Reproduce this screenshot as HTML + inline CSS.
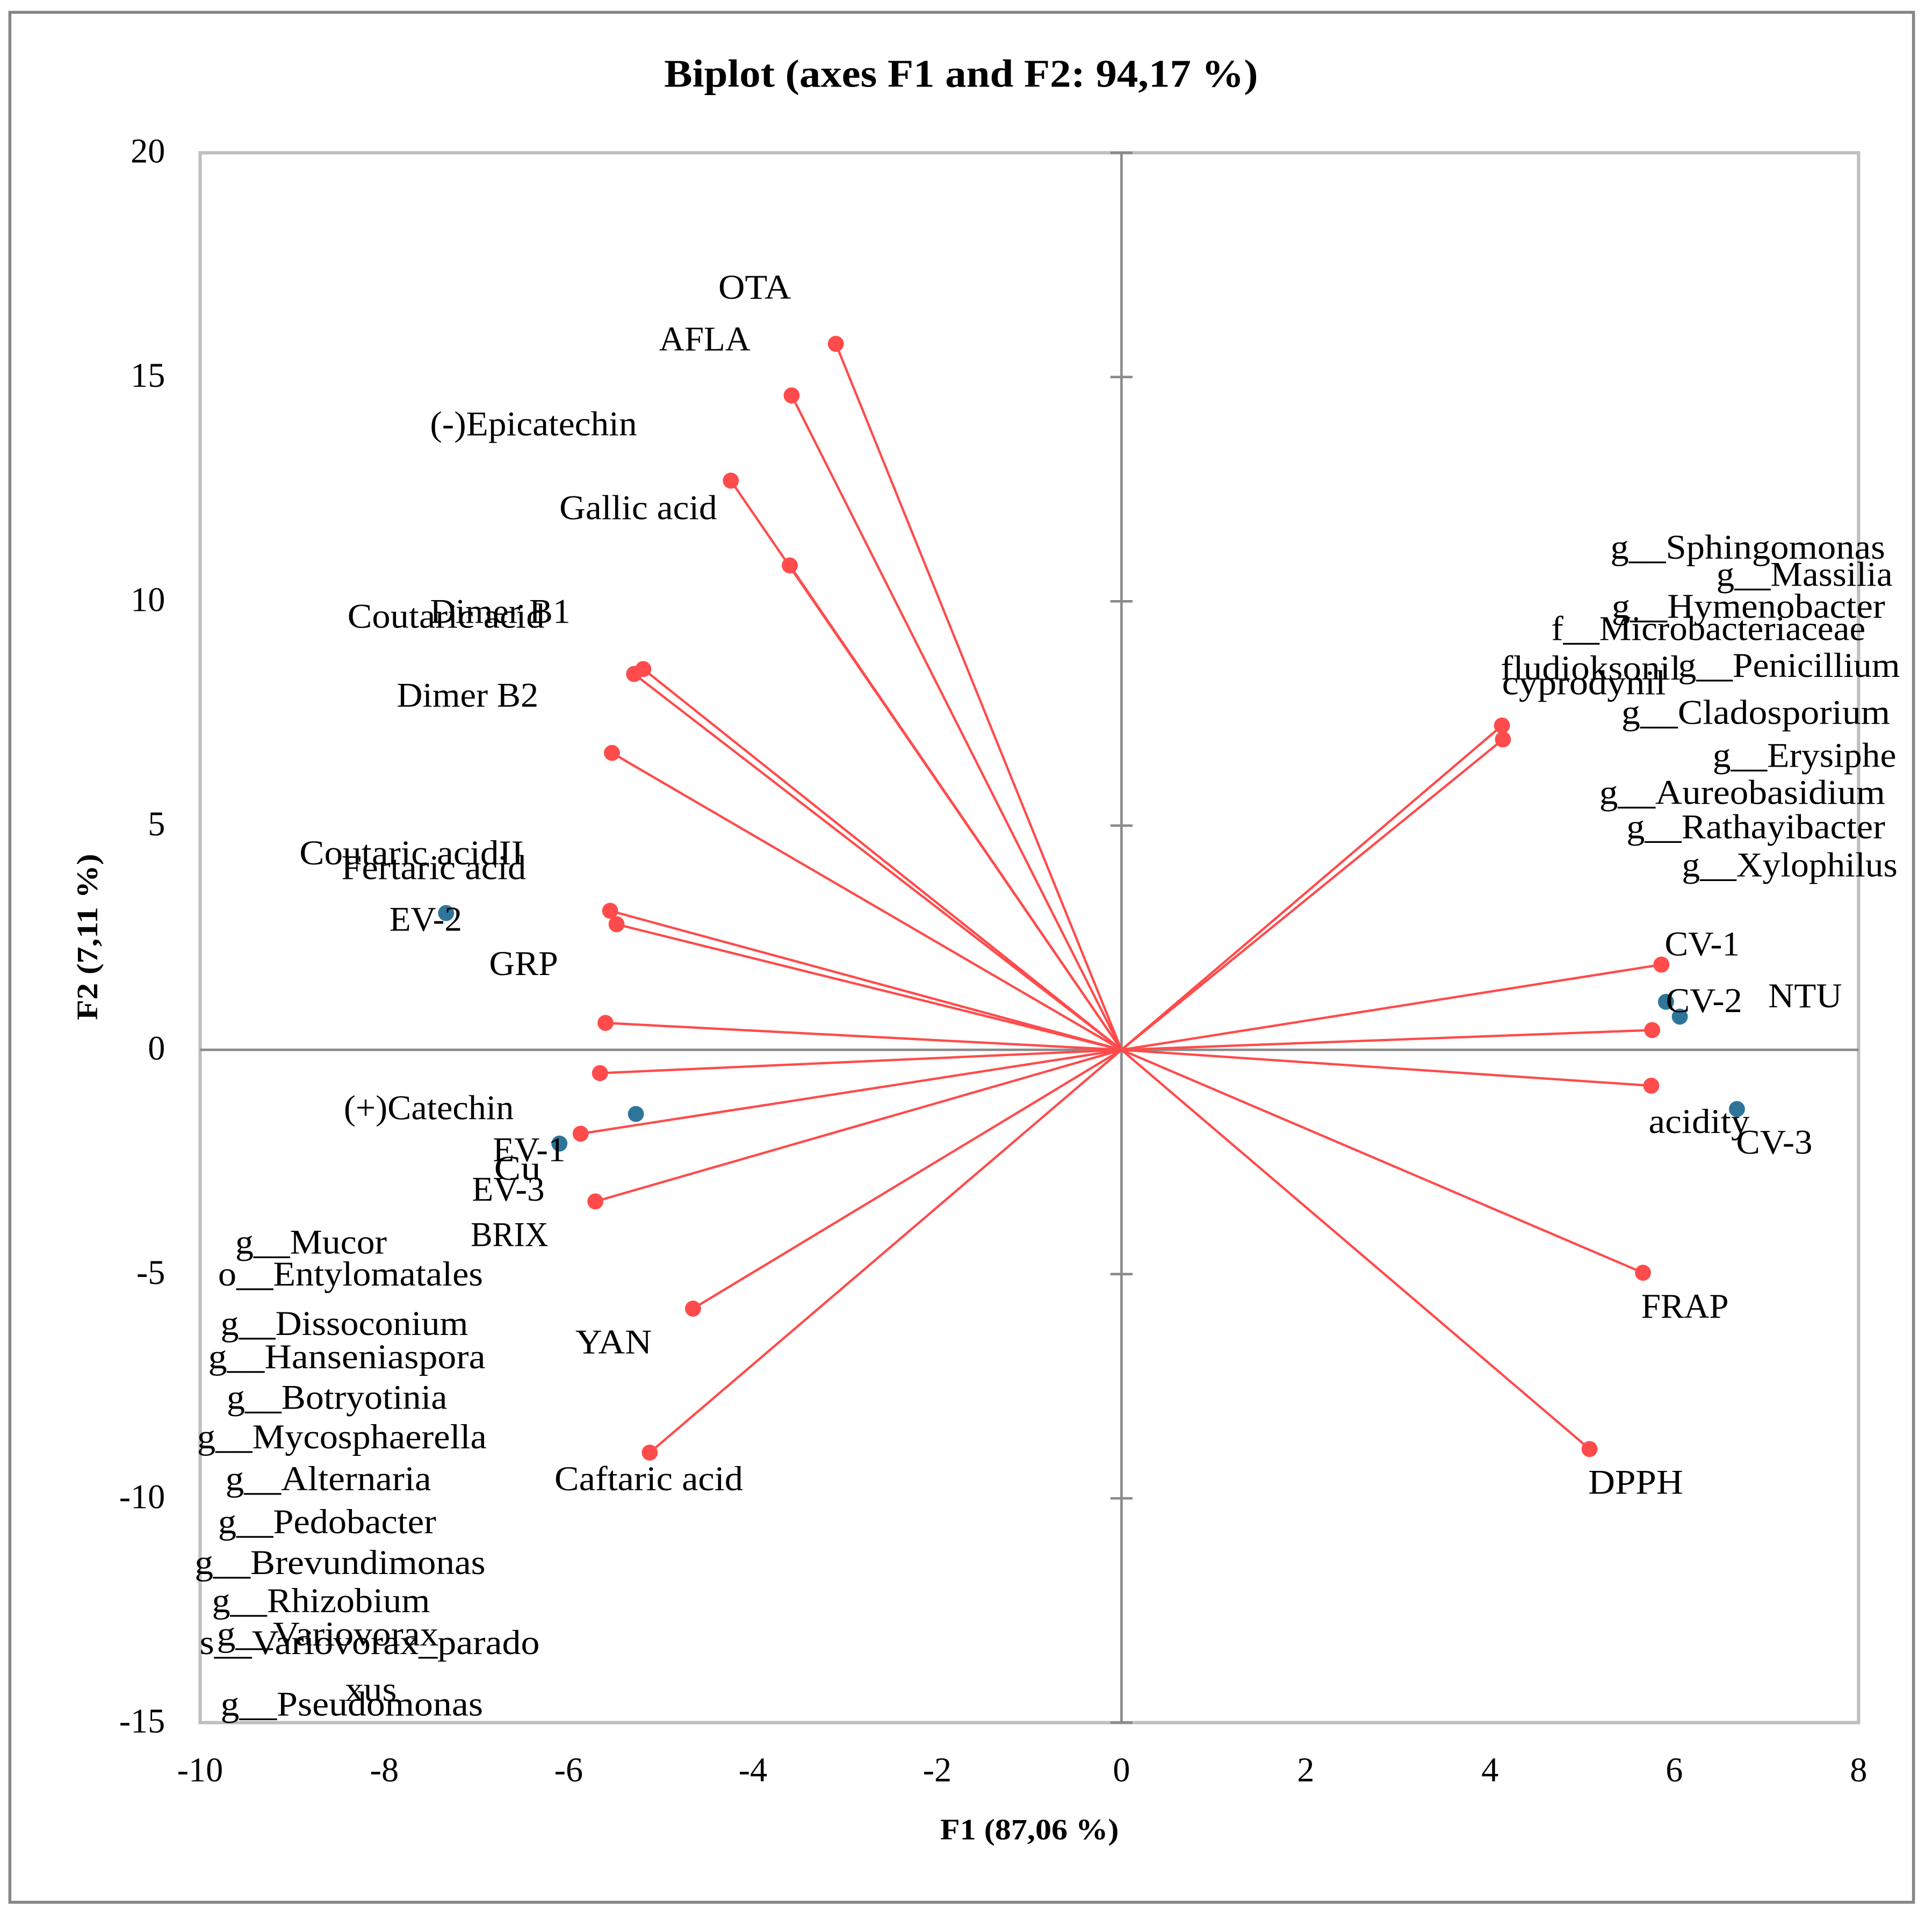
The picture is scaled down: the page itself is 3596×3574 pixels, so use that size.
<!DOCTYPE html>
<html lang="en">
<head>
<meta charset="utf-8">
<title>Biplot (axes F1 and F2: 94,17 %)</title>
<style>
html,body{margin:0;padding:0;background:#fff;}
body{width:3596px;height:3574px;overflow:hidden;}
svg{display:block;}
text{font-family:"Liberation Serif",serif;font-size:28px;fill:#000;}
text.bold{font-weight:bold;}
</style>
</head>
<body>
<svg id="chart" xmlns="http://www.w3.org/2000/svg" width="3596" height="3574" viewBox="0 0 1568 1558.4">
<rect x="0" y="0" width="1568" height="1558.4" fill="#fff"/>
<rect x="8" y="10" width="1545" height="1534" fill="#fff" stroke="#868686" stroke-width="2.4"/>
<text class="bold" x="539" y="70.5" textLength="482" lengthAdjust="spacingAndGlyphs" style="font-size:32px">Biplot (axes F1 and F2: 94,17 %)</text>
<text class="bold" x="763" y="1493" textLength="145" lengthAdjust="spacingAndGlyphs" style="font-size:24px">F1 (87,06 %)</text>
<text class="bold" transform="translate(79,828) rotate(-90)" textLength="135" lengthAdjust="spacingAndGlyphs" style="font-size:24px">F2 (7,11 %)</text>
<g id="plot"></g>
<g transform="translate(0,-0.5)">
<text x="583" y="243" textLength="59" lengthAdjust="spacingAndGlyphs">OTA</text>
<text x="535" y="285" textLength="74" lengthAdjust="spacingAndGlyphs">AFLA</text>
<text x="349" y="354" textLength="168" lengthAdjust="spacingAndGlyphs">(-)Epicatechin</text>
<text x="454" y="422" textLength="128" lengthAdjust="spacingAndGlyphs">Gallic acid</text>
<text x="349" y="506" textLength="114" lengthAdjust="spacingAndGlyphs">Dimer B1</text>
<text x="282" y="510" textLength="160" lengthAdjust="spacingAndGlyphs">Coutaric acid</text>
<text x="322" y="574" textLength="115" lengthAdjust="spacingAndGlyphs">Dimer B2</text>
<text x="243" y="702" textLength="182" lengthAdjust="spacingAndGlyphs">Coutaric acidII</text>
<text x="277" y="714" textLength="150" lengthAdjust="spacingAndGlyphs">Fertaric acid</text>
<text x="316" y="756" textLength="59" lengthAdjust="spacingAndGlyphs">EV-2</text>
<text x="397" y="792" textLength="56" lengthAdjust="spacingAndGlyphs">GRP</text>
<text x="279" y="909" textLength="138" lengthAdjust="spacingAndGlyphs">(+)Catechin</text>
<text x="400" y="943" textLength="59" lengthAdjust="spacingAndGlyphs">EV-1</text>
<text x="401" y="958" textLength="38" lengthAdjust="spacingAndGlyphs">Cu</text>
<text x="383" y="975" textLength="59" lengthAdjust="spacingAndGlyphs">EV-3</text>
<text x="382" y="1012" textLength="63" lengthAdjust="spacingAndGlyphs">BRIX</text>
<text x="191" y="1018" textLength="123" lengthAdjust="spacingAndGlyphs">g__Mucor</text>
<text x="177" y="1044" textLength="215" lengthAdjust="spacingAndGlyphs">o__Entylomatales</text>
<text x="179" y="1084" textLength="201" lengthAdjust="spacingAndGlyphs">g__Dissoconium</text>
<text x="169" y="1111" textLength="225" lengthAdjust="spacingAndGlyphs">g__Hanseniaspora</text>
<text x="184" y="1144" textLength="179" lengthAdjust="spacingAndGlyphs">g__Botryotinia</text>
<text x="160" y="1176" textLength="235" lengthAdjust="spacingAndGlyphs">g__Mycosphaerella</text>
<text x="183" y="1210" textLength="167" lengthAdjust="spacingAndGlyphs">g__Alternaria</text>
<text x="177" y="1245" textLength="177" lengthAdjust="spacingAndGlyphs">g__Pedobacter</text>
<text x="158" y="1278" textLength="236" lengthAdjust="spacingAndGlyphs">g__Brevundimonas</text>
<text x="172" y="1309" textLength="177" lengthAdjust="spacingAndGlyphs">g__Rhizobium</text>
<text x="176" y="1336" textLength="180" lengthAdjust="spacingAndGlyphs">g__Variovorax</text>
<text x="162" y="1343" textLength="276" lengthAdjust="spacingAndGlyphs">s__Variovorax_parado</text>
<text x="280" y="1381" textLength="42" lengthAdjust="spacingAndGlyphs">xus</text>
<text x="179" y="1393" textLength="213" lengthAdjust="spacingAndGlyphs">g__Pseudomonas</text>
<text x="467" y="1099" textLength="62" lengthAdjust="spacingAndGlyphs">YAN</text>
<text x="450" y="1210" textLength="153" lengthAdjust="spacingAndGlyphs">Caftaric acid</text>
<text x="1289" y="1213" textLength="77" lengthAdjust="spacingAndGlyphs">DPPH</text>
<text x="1332" y="1070" textLength="71" lengthAdjust="spacingAndGlyphs">FRAP</text>
<text x="1338" y="920" textLength="82" lengthAdjust="spacingAndGlyphs">acidity</text>
<text x="1409" y="937" textLength="62" lengthAdjust="spacingAndGlyphs">CV-3</text>
<text x="1352" y="822" textLength="62" lengthAdjust="spacingAndGlyphs">CV-2</text>
<text x="1435" y="818" textLength="60" lengthAdjust="spacingAndGlyphs">NTU</text>
<text x="1351" y="776" textLength="61" lengthAdjust="spacingAndGlyphs">CV-1</text>
<text x="1365" y="712" textLength="175" lengthAdjust="spacingAndGlyphs">g__Xylophilus</text>
<text x="1320" y="681" textLength="210" lengthAdjust="spacingAndGlyphs">g__Rathayibacter</text>
<text x="1298" y="653" textLength="232" lengthAdjust="spacingAndGlyphs">g__Aureobasidium</text>
<text x="1390" y="623" textLength="149" lengthAdjust="spacingAndGlyphs">g__Erysiphe</text>
<text x="1316" y="588" textLength="218" lengthAdjust="spacingAndGlyphs">g__Cladosporium</text>
<text x="1219" y="564" textLength="133" lengthAdjust="spacingAndGlyphs">cyprodynil</text>
<text x="1218" y="552" textLength="146" lengthAdjust="spacingAndGlyphs">fludioksonil</text>
<text x="1362" y="550" textLength="180" lengthAdjust="spacingAndGlyphs">g__Penicillium</text>
<text x="1259" y="520" textLength="255" lengthAdjust="spacingAndGlyphs">f__Microbacteriaceae</text>
<text x="1308" y="502" textLength="222" lengthAdjust="spacingAndGlyphs">g__Hymenobacter</text>
<text x="1393" y="476" textLength="143" lengthAdjust="spacingAndGlyphs">g__Massilia</text>
<text x="1307" y="454" textLength="223" lengthAdjust="spacingAndGlyphs">g__Sphingomonas</text>
</g>
</svg>
<script>
var xTicks = [-10, -8, -6, -4, -2, 0, 2, 4, 6, 8];
var yTicks = [20, 15, 10, 5, 0, -5, -10, -15];
var variableF1 = [-3.10, -3.58, -4.24, -3.60, -5.19, -5.29, -5.53, -5.55, -5.48, -5.60, -5.66, -5.87, -5.71, -4.65, -5.12, 5.08, 5.66, 5.75, 5.76, 5.86, 4.13, 4.14];
var variableF2 = [15.74, 14.59, 12.69, 10.80, 8.49, 8.38, 6.62, 3.10, 2.80, 0.60, -0.52, -1.87, -3.38, -5.77, -8.98, -8.90, -4.97, -0.80, 0.44, 1.90, 7.23, 6.92];
var observationF1 = [-7.33, -6.10, -5.27, 5.91, 6.06, 6.68];
var observationF2 = [3.05, -2.09, -1.43, 1.07, 0.74, -1.32];

var SVG_NS = 'http://www.w3.org/2000/svg';
var plot = document.getElementById('plot');
var plotLeft = 162.4, plotRight = 1508.4, plotTop = 124, plotBottom = 1398.2;
var xMin = -10, xMax = 8, yMin = -15, yMax = 20;
function sx(v) { return plotLeft + (v - xMin) / (xMax - xMin) * (plotRight - plotLeft); }
function sy(v) { return plotBottom - (v - yMin) / (yMax - yMin) * (plotBottom - plotTop); }
function make(tag, attrs) {
  var el = document.createElementNS(SVG_NS, tag);
  for (var k in attrs) { el.setAttribute(k, attrs[k]); }
  plot.appendChild(el);
  return el;
}
var frame = make('rect', {x: plotLeft, y: plotTop, width: plotRight - plotLeft, height: plotBottom - plotTop, fill: 'none', stroke: '#bfbfbf', 'stroke-width': 2.7});


var xAxisLine = make('line', {x1: plotLeft, x2: plotRight, y1: sy(0), y2: sy(0), stroke: '#8a8a8a', 'stroke-width': 2});


var yAxisLine = make('line', {x1: sx(0), x2: sx(0), y1: plotTop, y2: plotBottom, stroke: '#8a8a8a', 'stroke-width': 2});


yTicks.forEach(function (t) {
  var tick = make('line', {x1: sx(0) - 9, x2: sx(0) + 9, y1: sy(t), y2: sy(t), stroke: '#8a8a8a', 'stroke-width': 2});
  
  
  var label = make('text', {x: 134, y: sy(t) + 8, 'text-anchor': 'end'});
  
  
  label.textContent = String(t);
});
xTicks.forEach(function (t) {
  var label = make('text', {x: sx(t), y: 1446, 'text-anchor': 'middle'});
  
  
  label.textContent = String(t);
});
variableF1.forEach(function (v, i) {
  var vector = make('line', {x1: sx(0), y1: sy(0), x2: sx(v), y2: sy(variableF2[i]), stroke: '#ff4b4b', 'stroke-width': 1.9});
  
  
});
variableF1.forEach(function (v, i) {
  var dot = make('circle', {cx: sx(v), cy: sy(variableF2[i]), r: 6.5, fill: '#ff4b4b'});
  
  
});
observationF1.forEach(function (v, i) {
  var dot = make('circle', {cx: sx(v), cy: sy(observationF2[i]), r: 6.5, fill: '#2e7599'});
  
  
});
</script>
</body>
</html>
